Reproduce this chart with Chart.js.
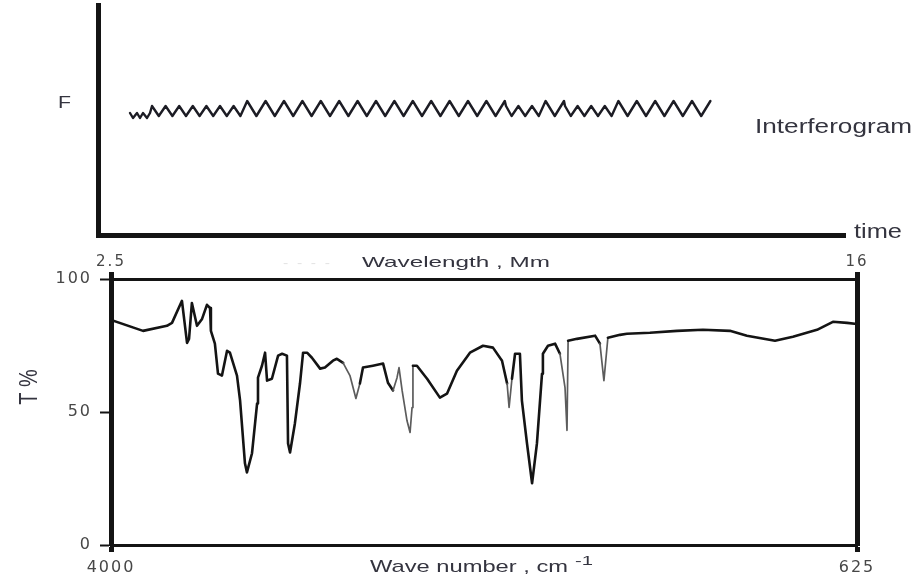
<!DOCTYPE html>
<html>
<head>
<meta charset="utf-8">
<title>Interferogram and IR transmittance spectrum</title>
<script src="https://cdn.jsdelivr.net/npm/chart.js@4/dist/chart.umd.min.js"></script>
<style>
  html, body { margin: 0; padding: 0; background: #ffffff; }
  #wrap { position: relative; width: 919px; height: 580px; }
  canvas { position: absolute; left: 0; display: block; }
  #interferogram { top: 0; }
  #spectrum { top: 245px; }
</style>
</head>
<body>
<div id="wrap">
  <canvas id="interferogram" width="919" height="245"></canvas>
  <canvas id="spectrum" width="919" height="335"></canvas>
</div>
<script>
// ---- Interferogram trace (detector signal F against time) ----
const interferogramTime = [
  32, 35, 39, 42, 45, 49, 52,
  54.0, 60.8, 67.6, 74.4, 81.2, 88.0, 94.8, 101.6, 108.4, 115.2, 122.0, 128.8, 135.6, 142.4, 149.2,
  158.4, 167.6, 176.8, 186.0, 195.2, 204.4, 213.6, 222.8, 232.0, 241.2, 250.4, 259.6, 268.8, 278.0,
  287.2, 296.4, 305.6, 314.8, 324.0, 333.2, 342.4, 351.6, 360.8, 370.0, 379.2, 388.4, 397.6, 406.8,
  408,
  413.6, 420.4, 427.2, 434.0, 440.8, 447.6,
  456.8, 466.0,
  467,
  472.8, 479.6, 486.4, 493.2, 500.0, 506.8, 513.6, 520.4,
  529.6, 538.8, 548.0, 557.2, 566.4, 575.6, 584.8, 594.0, 603.2, 612.4
];
const interferogramSignal = [
  3, -2, 3, -2, 3, -2, 3,
  10, 0, 10, 0, 10, 0, 10, 0, 10, 0, 10, 0, 10, 0, 15,
  0, 15, 0, 15, 0, 15, 0, 15, 0, 15, 0, 15, 0, 15,
  0, 15, 0, 15, 0, 15, 0, 15, 0, 15, 0, 15, 0, 15,
  10,
  0, 10, 0, 10, 0, 15,
  0, 15,
  10,
  0, 10, 0, 10, 0, 10, 0, 15,
  0, 15, 0, 15, 0, 15, 0, 15, 0, 15
];

// ---- IR spectrum: transmittance (%) against wave number (cm-1) ----
const wavenumber = [
  4000, 3855, 3747, 3724, 3679, 3656, 3647, 3634, 3611, 3588,
  3566, 3552, 3548, 3530, 3516, 3498, 3475, 3462, 3430, 3416,
  3394, 3385, 3362, 3339, 3335, 3317, 3303, 3294, 3272, 3244,
  3226, 3204, 3199, 3190, 3168, 3145, 3131, 3113, 3091, 3054,
  3032, 2996, 2978, 2950, 2919, 2892, 2874, 2860, 2815, 2769,
  2747, 2724, 2706, 2697, 2683, 2661, 2647, 2638, 2634, 2616,
  2570, 2512, 2480, 2435, 2376, 2317, 2272, 2231, 2208, 2199,
  2186, 2172, 2150, 2141, 2118, 2095, 2073, 2050, 2046, 2023,
  1991, 1969, 1946, 1937, 1932, 1892, 1810, 1788, 1770, 1752,
  1697, 1666, 1562, 1439, 1322, 1200, 1123, 996, 915, 806,
  734, 670, 625
];
const transmittance = [
  84.6, 80.5, 82.4, 83.5, 91.8, 76.0, 77.5, 91.0, 82.4, 85.0,
  90.3, 89.1, 80.5, 75.7, 64.4, 63.7, 73.0, 72.3, 63.7, 54.3,
  30.7, 27.3, 34.5, 53.2, 62.9, 67.4, 72.3, 61.8, 62.5, 71.2,
  71.9, 71.2, 38.2, 34.8, 45.7, 60.7, 72.3, 72.3, 70.4, 66.3,
  66.7, 69.3, 70.0, 68.5, 63.7, 55.1, 60.7, 66.7, 67.4, 68.2,
  61.0, 58.1, 62.9, 66.7, 58.1, 46.8, 42.3, 51.7, 67.4, 67.4,
  62.5, 55.4, 56.9, 65.5, 72.3, 74.9, 74.2, 69.3, 60.7, 51.7,
  62.5, 71.9, 71.9, 54.3, 38.2, 23.2, 38.2, 64.4, 71.9, 74.9,
  75.7, 71.9, 59.2, 43.1, 76.8, 77.5, 78.7, 75.7, 61.8, 77.9,
  79.0, 79.4, 79.8, 80.5, 80.9, 80.5, 78.7, 76.8, 78.3, 80.9,
  83.9, 83.5, 83.1
];

// Tick values and labels
const wavenumberTicks = [4000, 625];
const wavelengthLabels = ['2.5', '16'];
const transmittanceTicks = [0, 50, 100];

const INK = '#141414';
const TEXT = '#34343f';
const TICK_TEXT = '#474747';
const LABEL_FONT = '"Liberation Sans", Arial, Helvetica, sans-serif';
const TICK_FONT = '"DejaVu Sans", "Liberation Sans", sans-serif';

// Wave-number bands where the pen trace is fainter and finer
const faintBands = [[2950, 2870], [2730, 2630], [2215, 2180], [1975, 1930], [1795, 1755]];

// Draws a text line stretched horizontally to a given width
function drawStretched(ctx, text, x, y, size, width, color) {
  ctx.save();
  ctx.letterSpacing = '0px';
  ctx.font = size + 'px ' + LABEL_FONT;
  ctx.fillStyle = color;
  ctx.textAlign = 'left';
  ctx.textBaseline = 'alphabetic';
  const w = ctx.measureText(text).width;
  ctx.translate(x, y);
  ctx.scale(width / w, 1);
  ctx.fillText(text, 0, 0);
  ctx.restore();
}

function pairs(xs, ys) {
  return xs.map((x, i) => ({ x: x, y: ys[i] }));
}

function inFaintBand(segCtx) {
  const a = segCtx.p0.parsed.x, b = segCtx.p1.parsed.x;
  const mid = (a + b) / 2;
  return faintBands.some(([hi, lo]) => mid <= hi && mid >= lo);
}

// ---------------- Interferogram panel ----------------
const interferogramLabels = {
  id: 'interferogramLabels',
  afterDraw(chart) {
    const ctx = chart.ctx;
    drawStretched(ctx, 'F', 58, 108, 17, 13, TEXT);
    drawStretched(ctx, 'Interferogram', 755, 133, 20, 157, TEXT);
    drawStretched(ctx, 'time', 854, 238, 20, 48, TEXT);
  }
};

new Chart(document.getElementById('interferogram'), {
  type: 'line',
  data: {
    datasets: [{
      data: pairs(interferogramTime, interferogramSignal),
      borderColor: '#1c1c24',
      borderWidth: 2.4,
      borderJoinStyle: 'round',
      borderCapStyle: 'round',
      pointRadius: 0,
      tension: 0,
      fill: false
    }]
  },
  options: {
    responsive: false,
    animation: false,
    devicePixelRatio: 1,
    layout: { padding: { top: 5, right: 74, left: 0, bottom: 0 } },
    plugins: { legend: { display: false }, tooltip: { enabled: false } },
    scales: {
      x: {
        type: 'linear', position: 'bottom', min: 0, max: 747,
        ticks: { display: false },
        grid: { display: false, drawTicks: false },
        border: { display: true, width: 5, color: INK },
        afterFit(scale) { scale.height = 10; }
      },
      y: {
        type: 'linear', position: 'left', min: -119, max: 111,
        ticks: { display: false },
        grid: { display: false, drawTicks: false },
        border: { display: true, width: 5, color: INK },
        afterFit(scale) { scale.width = 98; }
      }
    }
  },
  plugins: [interferogramLabels]
});

// ---------------- Spectrum panel ----------------
const spacedTicks = {
  id: 'spacedTicks',
  beforeDraw(chart) { chart.ctx.letterSpacing = '2px'; }
};

const spectrumLabels = {
  id: 'spectrumLabels',
  afterDraw(chart) {
    const ctx = chart.ctx;
    const top = 245;
    drawStretched(ctx, '-  -  -  -', 283, 267 - top, 13, 47, '#e4e4e4');
    drawStretched(ctx, 'Wavelength , Mm', 362, 267 - top, 15, 188, TEXT);
    drawStretched(ctx, 'Wave number , cm', 370, 572 - top, 17, 198, TEXT);
    drawStretched(ctx, '-1', 575, 565 - top, 13, 18, TEXT);
    // rotated axis title
    ctx.save();
    ctx.letterSpacing = '0px';
    ctx.font = '20px ' + LABEL_FONT;
    ctx.fillStyle = TEXT;
    ctx.textAlign = 'center';
    ctx.textBaseline = 'alphabetic';
    ctx.translate(37, 387 - top);
    ctx.scale(1.3, 1);
    ctx.rotate(-Math.PI / 2);
    ctx.fillText('T %', 0, 0);
    ctx.restore();
  }
};

const tickFont = (size) => ({ family: TICK_FONT, size: size });
const plainNumber = (value) => String(value);

new Chart(document.getElementById('spectrum'), {
  type: 'line',
  data: {
    datasets: [{
      data: pairs(wavenumber, transmittance),
      borderColor: INK,
      borderWidth: 2.6,
      borderJoinStyle: 'round',
      borderCapStyle: 'round',
      segment: {
        borderColor: (c) => inFaintBand(c) ? '#5c5c5c' : undefined,
        borderWidth: (c) => inFaintBand(c) ? 1.7 : undefined
      },
      pointRadius: 0,
      tension: 0,
      fill: false,
      xAxisID: 'x',
      yAxisID: 'y'
    }]
  },
  options: {
    responsive: false,
    animation: false,
    devicePixelRatio: 1,
    layout: { padding: 0 },
    plugins: { legend: { display: false }, tooltip: { enabled: false } },
    scales: {
      x: {
        type: 'linear', position: 'bottom', reverse: true, min: 625, max: 4000,
        afterBuildTicks(scale) { scale.ticks = wavenumberTicks.map(v => ({ value: v })); },
        ticks: { autoSkip: false, maxRotation: 0, padding: 6, color: TICK_TEXT, font: tickFont(16), callback: plainNumber },
        grid: { display: true, drawOnChartArea: false, drawTicks: true, tickLength: 7, tickWidth: 5, tickColor: INK },
        border: { display: true, width: 3, color: INK },
        afterFit(scale) { scale.height = 35; }
      },
      x2: {
        type: 'linear', axis: 'x', position: 'top', reverse: true, min: 625, max: 4000,
        afterBuildTicks(scale) { scale.ticks = wavenumberTicks.map(v => ({ value: v })); },
        ticks: {
          autoSkip: false, maxRotation: 0, padding: 1, color: TICK_TEXT, font: tickFont(15),
          callback: (value, index) => wavelengthLabels[index]
        },
        grid: { display: true, drawOnChartArea: false, drawTicks: true, tickLength: 7, tickWidth: 5, tickColor: INK },
        border: { display: true, width: 3, color: INK },
        afterFit(scale) { scale.height = 34; }
      },
      y: {
        type: 'linear', position: 'left', min: 0, max: 100,
        afterBuildTicks(scale) { scale.ticks = transmittanceTicks.map(v => ({ value: v })); },
        ticks: { padding: 8, color: TICK_TEXT, font: tickFont(16), callback: plainNumber },
        grid: { display: true, drawOnChartArea: false, drawTicks: true, tickLength: 11, tickWidth: 2, tickColor: INK },
        border: { display: true, width: 5, color: INK },
        afterFit(scale) { scale.width = 111; }
      },
      y1: {
        type: 'linear', position: 'right', min: 0, max: 100,
        ticks: { display: false },
        grid: { display: false, drawTicks: false },
        border: { display: true, width: 5, color: INK },
        afterFit(scale) { scale.width = 62; }
      }
    }
  },
  plugins: [spacedTicks, spectrumLabels]
});
</script>
</body>
</html>
